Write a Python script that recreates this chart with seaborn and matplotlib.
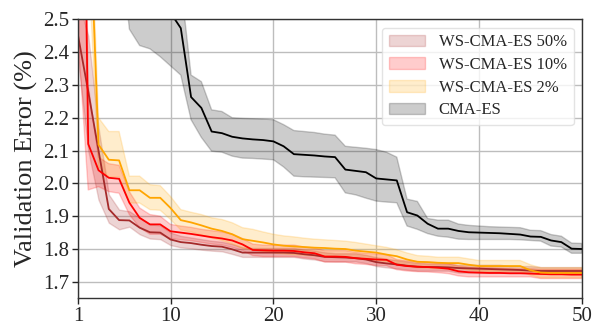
import numpy as np
import pandas as pd
import seaborn as sns
import matplotlib
matplotlib.use("Agg")
import matplotlib.pyplot as plt

# iterations 1..50
iters = list(range(1, 51))

# WS-CMA-ES 50%
ws50_mean = [2.452, 2.28, 2.10, 1.922, 1.888, 1.887, 1.865, 1.851, 1.850, 1.829,
             1.821, 1.818, 1.813, 1.809, 1.807, 1.799, 1.789, 1.789, 1.789, 1.789,
             1.789, 1.788, 1.784, 1.781, 1.776, 1.775, 1.774, 1.772, 1.768, 1.760,
             1.756, 1.753, 1.749, 1.746, 1.745, 1.745, 1.744, 1.742, 1.741, 1.740,
             1.739, 1.738, 1.737, 1.736, 1.734, 1.733, 1.733, 1.733, 1.733, 1.733]
ws50_hi = [2.56, 2.45, 2.17, 1.966, 1.92, 1.915, 1.895, 1.875, 1.872, 1.85,
           1.84, 1.835, 1.83, 1.825, 1.822, 1.815, 1.805, 1.803, 1.803, 1.803,
           1.803, 1.803, 1.798, 1.795, 1.79, 1.787, 1.787, 1.787, 1.782, 1.775,
           1.770, 1.766, 1.762, 1.758, 1.756, 1.756, 1.756, 1.752, 1.752, 1.752,
           1.752, 1.752, 1.748, 1.748, 1.748, 1.745, 1.745, 1.745, 1.745, 1.745]
ws50_lo = [2.38, 2.10, 1.95, 1.88, 1.86, 1.868, 1.845, 1.832, 1.83, 1.812,
           1.805, 1.802, 1.798, 1.795, 1.793, 1.785, 1.776, 1.776, 1.776, 1.776,
           1.776, 1.776, 1.771, 1.768, 1.763, 1.762, 1.762, 1.762, 1.757, 1.748,
           1.744, 1.741, 1.737, 1.734, 1.734, 1.734, 1.734, 1.728, 1.728, 1.728,
           1.728, 1.728, 1.728, 1.728, 1.728, 1.724, 1.724, 1.724, 1.724, 1.724]

# WS-CMA-ES 10%
ws10_mean = [4.3, 2.12, 2.04, 2.017, 2.014, 1.941, 1.895, 1.875, 1.875, 1.854,
             1.850, 1.846, 1.841, 1.836, 1.832, 1.826, 1.814, 1.797, 1.796, 1.795,
             1.795, 1.794, 1.790, 1.787, 1.777, 1.777, 1.776, 1.772, 1.770, 1.768,
             1.767, 1.752, 1.748, 1.746, 1.745, 1.743, 1.740, 1.732, 1.729, 1.728,
             1.727, 1.727, 1.726, 1.726, 1.725, 1.724, 1.723, 1.723, 1.722, 1.722]
ws10_hi = [4.5, 2.3, 2.08, 2.06, 2.055, 1.975, 1.925, 1.905, 1.90, 1.875,
           1.87, 1.866, 1.86, 1.856, 1.852, 1.845, 1.832, 1.815, 1.812, 1.812,
           1.812, 1.812, 1.806, 1.803, 1.795, 1.795, 1.795, 1.79, 1.787, 1.785,
           1.783, 1.768, 1.764, 1.762, 1.76, 1.758, 1.755, 1.748, 1.745, 1.744,
           1.743, 1.742, 1.741, 1.740, 1.740, 1.738, 1.738, 1.738, 1.738, 1.738]
ws10_lo = [2.45, 1.98, 1.99, 1.975, 1.97, 1.905, 1.865, 1.845, 1.845, 1.832,
           1.828, 1.825, 1.82, 1.815, 1.812, 1.805, 1.795, 1.78, 1.777, 1.777,
           1.777, 1.777, 1.773, 1.77, 1.76, 1.76, 1.76, 1.755, 1.753, 1.75,
           1.749, 1.737, 1.733, 1.731, 1.73, 1.728, 1.725, 1.718, 1.715, 1.715,
           1.715, 1.715, 1.715, 1.715, 1.715, 1.71, 1.71, 1.71, 1.71, 1.71]

# WS-CMA-ES 2%
ws2_mean = [3.6, 2.95, 2.118, 2.072, 2.07, 1.979, 1.979, 1.956, 1.956, 1.925,
            1.888, 1.881, 1.872, 1.862, 1.855, 1.845, 1.83, 1.825, 1.82, 1.814,
            1.81, 1.808, 1.806, 1.804, 1.803, 1.801, 1.8, 1.795, 1.792, 1.789,
            1.783, 1.778, 1.768, 1.761, 1.760, 1.758, 1.757, 1.757, 1.752, 1.748,
            1.748, 1.748, 1.748, 1.748, 1.735, 1.728, 1.727, 1.727, 1.727, 1.727]
ws2_hi = [3.8, 3.05, 2.20, 2.158, 2.158, 2.022, 2.022, 1.996, 1.993, 1.96,
          1.92, 1.912, 1.905, 1.895, 1.89, 1.88, 1.865, 1.86, 1.852, 1.845,
          1.84, 1.837, 1.833, 1.83, 1.828, 1.826, 1.824, 1.82, 1.815, 1.81,
          1.805, 1.798, 1.788, 1.78, 1.778, 1.775, 1.775, 1.775, 1.77, 1.765,
          1.765, 1.765, 1.765, 1.765, 1.752, 1.743, 1.743, 1.743, 1.743, 1.743]
ws2_lo = [2.9, 2.69, 2.05, 2.02, 2.02, 1.94, 1.94, 1.92, 1.918, 1.89,
          1.858, 1.852, 1.843, 1.833, 1.826, 1.815, 1.802, 1.797, 1.793, 1.788,
          1.785, 1.783, 1.781, 1.779, 1.778, 1.776, 1.775, 1.771, 1.768, 1.766,
          1.761, 1.757, 1.748, 1.743, 1.742, 1.740, 1.740, 1.740, 1.736, 1.732,
          1.732, 1.732, 1.732, 1.732, 1.72, 1.712, 1.712, 1.712, 1.712, 1.712]

# CMA-ES
cma_mean = [2.95, 2.9, 2.85, 2.8, 2.75, 2.7, 2.65, 2.6, 2.56, 2.52,
            2.473, 2.263, 2.23, 2.158, 2.153, 2.142, 2.137, 2.134, 2.132, 2.128,
            2.113, 2.089, 2.087, 2.085, 2.082, 2.08, 2.042, 2.038, 2.034, 2.015,
            2.012, 2.009, 1.912, 1.902, 1.877, 1.862, 1.862, 1.855, 1.851, 1.850,
            1.849, 1.848, 1.846, 1.844, 1.838, 1.837, 1.826, 1.821, 1.801, 1.800]
cma_hi = [3.3, 3.25, 3.2, 3.15, 3.1, 3.05, 3.0, 2.95, 2.9, 2.85,
          2.61, 2.33, 2.31, 2.224, 2.219, 2.20, 2.198, 2.197, 2.196, 2.194,
          2.179, 2.161, 2.158, 2.155, 2.15, 2.147, 2.113, 2.11, 2.107, 2.103,
          2.095, 2.08, 1.952, 1.945, 1.893, 1.888, 1.888, 1.876, 1.872, 1.870,
          1.868, 1.867, 1.866, 1.865, 1.857, 1.856, 1.844, 1.839, 1.818, 1.817]
cma_lo = [3.1, 3.0, 2.95, 2.9, 2.77, 2.47, 2.42, 2.41, 2.386, 2.358,
          2.33, 2.194, 2.14, 2.098, 2.095, 2.083, 2.077, 2.076, 2.074, 2.072,
          2.05, 2.022, 2.02, 2.019, 2.018, 2.017, 1.971, 1.965, 1.955, 1.946,
          1.943, 1.941, 1.87, 1.86, 1.847, 1.839, 1.836, 1.83, 1.829, 1.829,
          1.829, 1.829, 1.829, 1.828, 1.826, 1.824, 1.809, 1.806, 1.787, 1.787]

labels = ["WS-CMA-ES 50%", "WS-CMA-ES 10%", "WS-CMA-ES 2%", "CMA-ES"]
colors = ["brown", "red", "orange", "black"]
series = [(ws50_mean, ws50_lo, ws50_hi), (ws10_mean, ws10_lo, ws10_hi),
          (ws2_mean, ws2_lo, ws2_hi), (cma_mean, cma_lo, cma_hi)]

sns.set_style("whitegrid")
plt.rcParams['font.family'] = ['Liberation Serif', 'DejaVu Serif']

fig, ax = plt.subplots(figsize=(5.95, 3.27), dpi=100)
fig.subplots_adjust(left=0.131, right=0.978, top=0.941, bottom=0.088)

for (m, lo, hi), lab, c in zip(series, labels, colors):
    ax.fill_between(iters, lo, hi, color=c, alpha=0.2, label=lab)
    df = pd.DataFrame({"iteration": iters, "error": m})
    sns.lineplot(data=df, x="iteration", y="error", color=c, linewidth=1.3,
                 ax=ax, legend=False)

ax.set_xlim(1, 50)
ax.set_ylim(1.65, 2.5)
ax.set_xticks([1, 10, 20, 30, 40, 50])
ax.set_yticks(np.arange(1.7, 2.51, 0.1))
ax.set_yticklabels([f"{v:.1f}" for v in np.arange(1.7, 2.51, 0.1)])
ax.set_xlabel("")
ax.set_ylabel("Validation Error (%)", fontsize=19)
ax.tick_params(axis="both", labelsize=15, length=4, width=1, direction="out",
               left=True, bottom=True, pad=2)
ax.grid(True, color="#bdbdbd", linewidth=1)
for s in ax.spines.values():
    s.set_color("#333333")
    s.set_linewidth(1.0)

leg = ax.legend(loc="upper right", fontsize=12, frameon=True, handlelength=2.2,
                borderaxespad=0.5, labelspacing=0.4)
leg.get_frame().set_edgecolor("#dddddd")

fig.savefig("out.png", dpi=100)
